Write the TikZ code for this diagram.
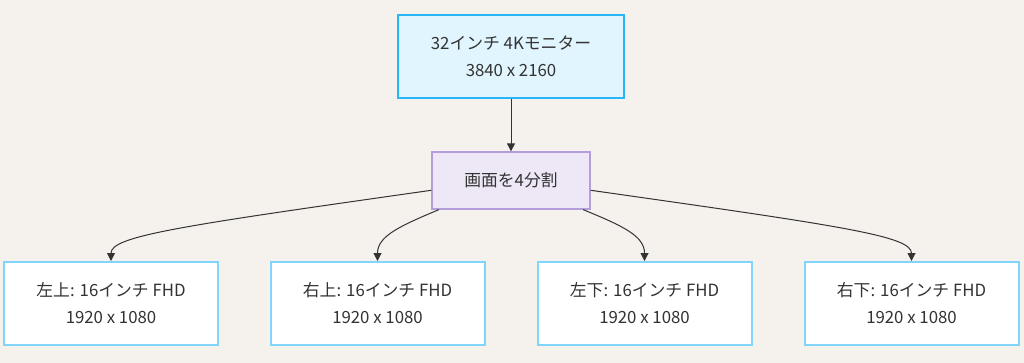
\documentclass[tikz,border=0pt]{standalone}
\usepackage{fontspec}
\setmainfont{Noto Sans CJK JP}
\usetikzlibrary{arrows.meta}
\definecolor{bgc}{HTML}{F5F2EE}
\definecolor{txt}{HTML}{333333}
\definecolor{topfill}{HTML}{E1F5FE}
\definecolor{topdraw}{HTML}{29B6F6}
\definecolor{midfill}{HTML}{EDE7F6}
\definecolor{middraw}{HTML}{B39DDB}
\definecolor{botdraw}{HTML}{81D4FA}
\definecolor{edge}{HTML}{333333}
\tikzset{
  box/.style={rectangle, align=center, text=txt, font=\fontsize{16.8}{27}\selectfont, inner sep=0pt},
  topbox/.style={box, fill=topfill, draw=topdraw, line width=2pt, minimum width=226pt, minimum height=83pt},
  midbox/.style={box, fill=midfill, draw=middraw, line width=1.3pt, minimum width=158pt, minimum height=57pt},
  botbox/.style={box, fill=white, draw=botdraw, line width=2pt, minimum width=214pt, minimum height=83pt},
  conn/.style={draw=edge, line width=1pt, -{Triangle[length=8pt,width=8pt]}}
}
\begin{document}
\begin{tikzpicture}[x=1pt,y=-1pt]
\fill[bgc] (0,0) rectangle (1024,363);
\useasboundingbox (0,0) rectangle (1024,363);
\node[topbox] (top) at (511,56.5) {32インチ 4Kモニター\\3840 x 2160};
\node[midbox] (mid) at (511,180.5) {画面を4分割};
\node[botbox] (b1) at (111,303.5) {左上: 16インチ FHD\\1920 x 1080};
\node[botbox] (b2) at (377.5,303.5) {右上: 16インチ FHD\\1920 x 1080};
\node[botbox] (b3) at (644.5,303.5) {左下: 16インチ FHD\\1920 x 1080};
\node[botbox] (b4) at (911.5,303.5) {右下: 16インチ FHD\\1920 x 1080};
\draw[conn] (top.south) -- (mid.north);
\draw[conn] (mid.187) .. controls (180,226) and (111,236) .. (b1.north);
\draw[conn] (mid.202) .. controls (400,226) and (377.5,236) .. (b2.north);
\draw[conn] (mid.338) .. controls (623,226) and (644.5,236) .. (b3.north);
\draw[conn] (mid.353) .. controls (842,226) and (911.5,236) .. (b4.north);
\end{tikzpicture}
\end{document}
